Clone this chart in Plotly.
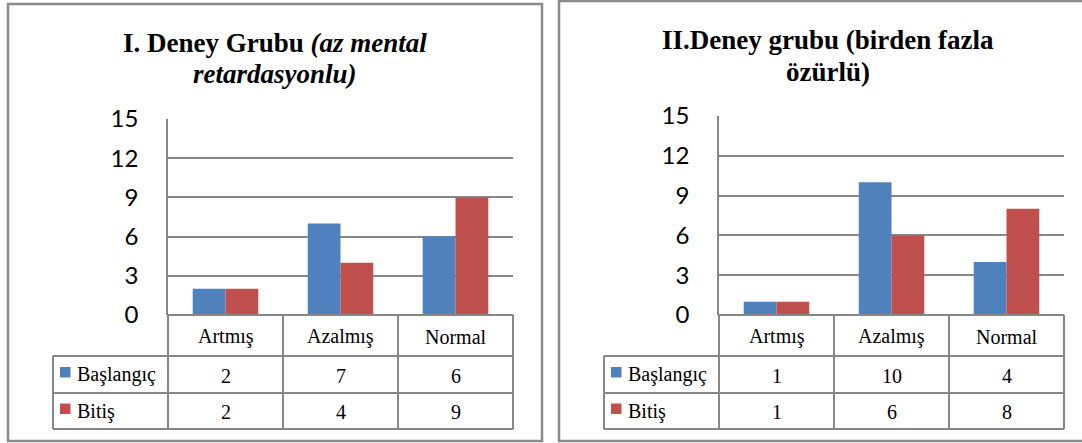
import plotly.graph_objects as go

W, H = 1082, 443

categories = ["Artmış", "Azalmış", "Normal"]
series_names = ["Başlangıç", "Bitiş"]
series_colors = ["#4F81BD", "#C0504D"]
y_ticks = [0, 3, 6, 9, 12, 15]

group1_start = [2, 7, 6]
group1_end = [2, 4, 9]
group2_start = [1, 10, 4]
group2_end = [1, 6, 8]

titles = [
    ("<b>I. Deney Grubu <i>(az mental</i></b>", "<b><i>retardasyonlu)</i></b>"),
    ("<b>II.Deney grubu (birden fazla</b>", "<b>özürlü)</b>"),
]

GRID = "#878787"
SERIF = "Liberation Serif"


def px(x):
    return x / W


def py(y):
    return 1 - y / H


def label(x, y, text, font, xanchor="center"):
    return dict(x=px(x), y=py(y), text=text, showarrow=False, xref="paper", yref="paper",
                xanchor=xanchor, yanchor="middle", font=font)


# panel layout in pixels
panels = [
    dict(box=(8, 4, 542, 441), left=168, right=513, top=119, tx=275, ty=(43, 74),
         data=(group1_start, group1_end), axes=("x", "y")),
    dict(box=(559, 1, 1090, 441), left=719, right=1064, top=116, tx=828, ty=(40, 72),
         data=(group2_start, group2_end), axes=("x2", "y2")),
]
BOTTOM = 315
ROWS = [315, 356, 393, 429]

fig = go.Figure()
shapes = []
annotations = []

for i, p in enumerate(panels):
    xa, ya = p["axes"]
    for name, vals, color in zip(series_names, p["data"], series_colors):
        fig.add_bar(x=categories, y=vals, name=name, marker_color=color,
                    marker_line_width=0, xaxis=xa, yaxis=ya, showlegend=False)

    suffix = "" if i == 0 else "2"
    fig.update_layout(**{
        "xaxis" + suffix: dict(domain=[px(p["left"]), px(p["right"])], anchor="y" + suffix,
                               showticklabels=False, showgrid=False, zeroline=False,
                               showline=False, range=[-0.5, 2.5], fixedrange=True,
                               automargin=False),
        "yaxis" + suffix: dict(domain=[py(BOTTOM), py(p["top"])], anchor="x" + suffix,
                               range=[0, 15], tickvals=y_ticks, showgrid=True,
                               gridcolor=GRID, gridwidth=1.5, zeroline=False,
                               showline=True, linecolor=GRID, linewidth=1.5,
                               ticks="", ticklabelstandoff=23, automargin=False,
                               tickfont=dict(family="Lato", size=24, color="#000")),
    })

    # panel border
    x0, y0, x1, y1 = p["box"]
    shapes.append(dict(type="rect", xref="paper", yref="paper", x0=px(x0), x1=px(x1),
                       y0=py(y1), y1=py(y0), line=dict(color="#8a8a8a", width=2.5)))

    # data table
    colw = (p["right"] - p["left"]) / len(categories)
    cols = [p["left"] + (k - 1) * colw for k in range(len(categories) + 2)]
    line = dict(color=GRID, width=2)
    shapes.append(dict(type="line", xref="paper", yref="paper", x0=px(cols[1]), x1=px(cols[-1]),
                       y0=py(ROWS[0]), y1=py(ROWS[0]), line=line))
    for r in ROWS[1:]:
        shapes.append(dict(type="line", xref="paper", yref="paper", x0=px(cols[0]), x1=px(cols[-1]),
                           y0=py(r), y1=py(r), line=line))
    shapes.append(dict(type="line", xref="paper", yref="paper", x0=px(cols[0]), x1=px(cols[0]),
                       y0=py(ROWS[1]), y1=py(ROWS[-1]), line=line))
    for c in cols[1:]:
        shapes.append(dict(type="line", xref="paper", yref="paper", x0=px(c), x1=px(c),
                           y0=py(ROWS[0]), y1=py(ROWS[-1]), line=line))

    tfont = dict(family=SERIF, size=20, color="#000")
    for k, cat in enumerate(categories):
        cx = cols[k + 1] + colw / 2
        annotations.append(label(cx, (ROWS[0] + ROWS[1]) / 2 + 1, cat, tfont))
        for r, vals in enumerate(p["data"]):
            annotations.append(label(cx, (ROWS[r + 1] + ROWS[r + 2]) / 2 + 1, str(vals[k]), tfont))
    for r, (name, color) in enumerate(zip(series_names, series_colors)):
        cy = (ROWS[r + 1] + ROWS[r + 2]) / 2 - 2
        sx = cols[0] + 7
        shapes.append(dict(type="rect", xref="paper", yref="paper", x0=px(sx), x1=px(sx + 10.5),
                           y0=py(cy + 5), y1=py(cy - 5.5), fillcolor=color, line_width=0))
        annotations.append(label(sx + 15, cy + 2, name, tfont, xanchor="left"))

    # title
    for line_text, ty in zip(titles[i], p["ty"]):
        annotations.append(label(p["tx"], ty, line_text, dict(family=SERIF, size=27, color="#000")))

fig.update_layout(
    width=W, height=H,
    margin=dict(l=0, r=0, t=0, b=0, autoexpand=False),
    paper_bgcolor="white", plot_bgcolor="white",
    barmode="group", bargap=0.43, bargroupgap=0,
    shapes=shapes, annotations=annotations,
)

# the page's default body margin would push the fixed-size figure off the window
fig.write_html("out.html", config={"displayModeBar": False},
               post_script="document.body.style.margin='0';document.body.style.overflow='hidden';")
